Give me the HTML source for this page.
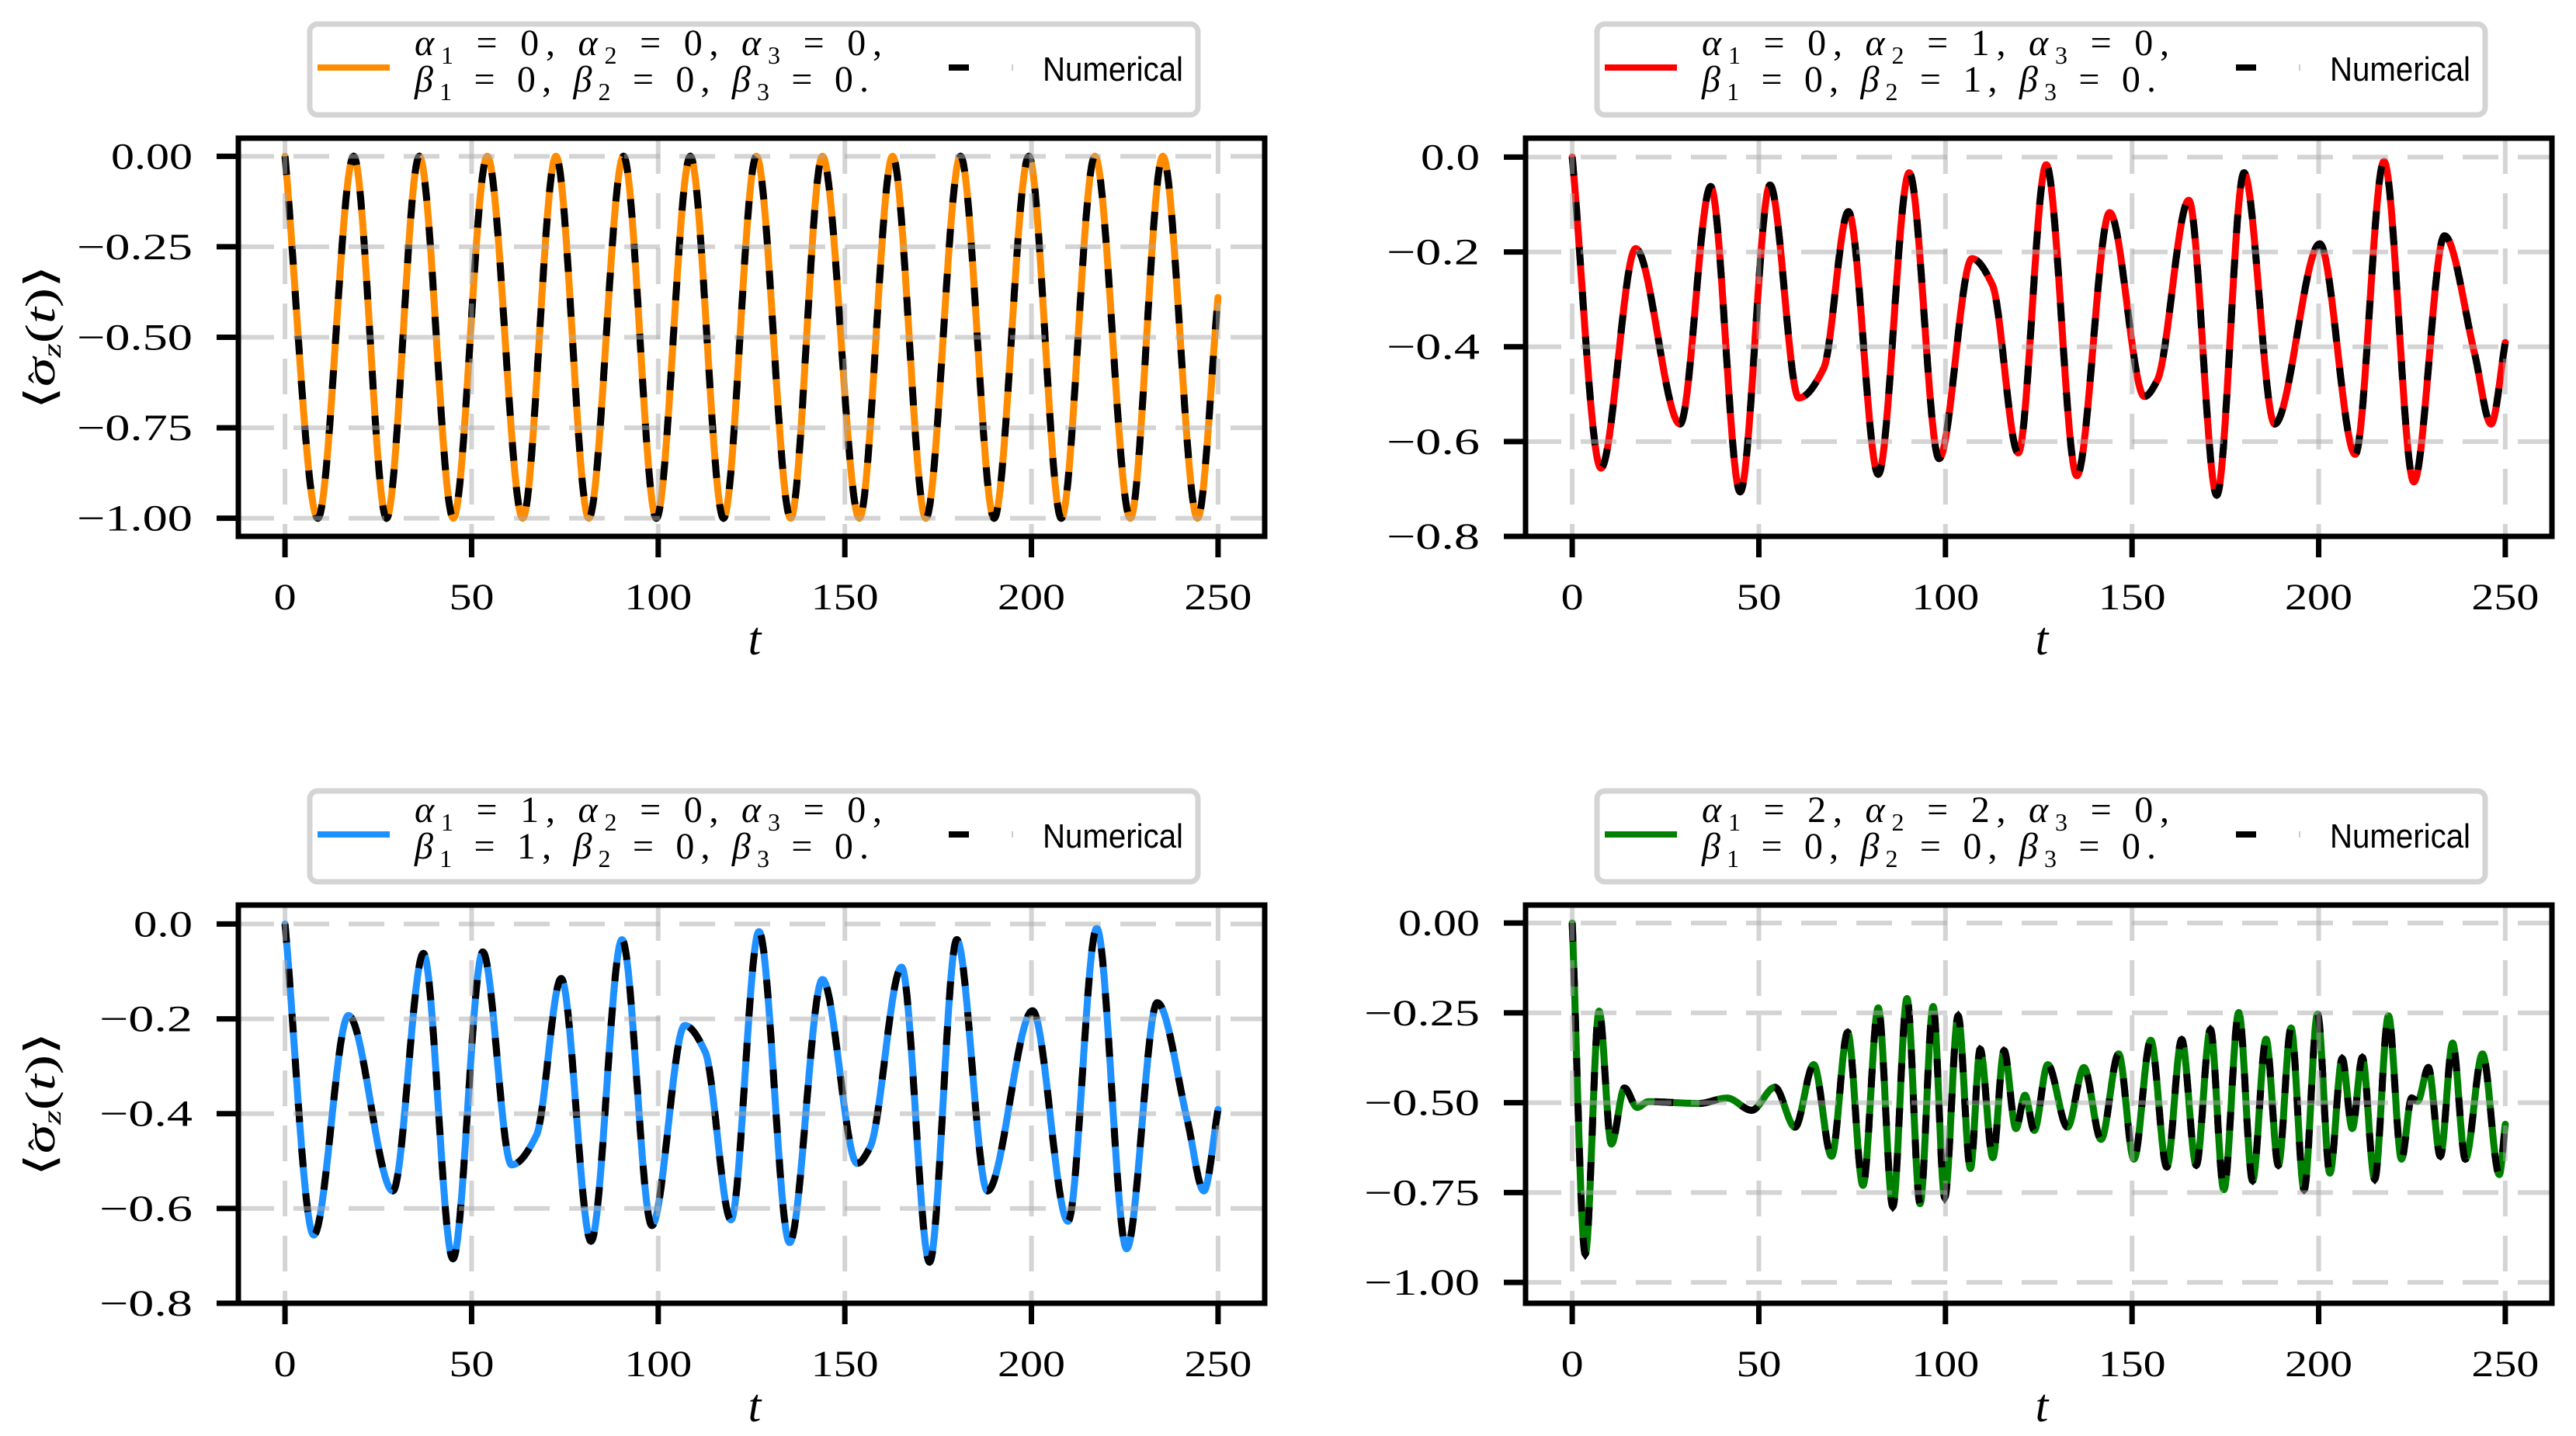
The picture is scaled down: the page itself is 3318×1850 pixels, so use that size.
<!DOCTYPE html>
<html><head><meta charset="utf-8"><style>
html,body{margin:0;padding:0;background:#fff;}
svg{display:block;}
</style></head><body>
<svg id="fig" width="3318" height="1850" viewBox="0 0 3318 1850" xmlns="http://www.w3.org/2000/svg"></svg>
<script>
// ---- Data (extrema; curves interpolated monotonically between them) ----
const tlT = [0,8.8,18.4,27.2,36,45.1,54.2,63.7,72.6,81.4,90.7,99.5,108.6,117.5,126.3,135.5,144,153.9,162.8,171.7,181,190,199.3,208,217,226.5,235.2,244.5,250];
const tlY = [0,-1,0,-1,0,-1,0,-1,0,-1,0,-1,0,-1,0,-1,0,-1,0,-1,0,-1,0,-1,0,-1,0,-1,-0.39];

const trT = [0,7.7,17,28.9,37.1,45,53,60.7,67.4,74,82,90.3,98.3,107.1,112.6,119.5,127,135.2,144,153.3,156.8,165.2,172.7,180,188.2,200.3,209.8,217.5,225.5,233.7,241.8,246.2,250];
const trY = [0,-0.656,-0.193,-0.563,-0.062,-0.706,-0.059,-0.508,-0.445,-0.115,-0.669,-0.033,-0.636,-0.214,-0.27,-0.624,-0.016,-0.672,-0.117,-0.505,-0.47,-0.091,-0.713,-0.033,-0.563,-0.183,-0.627,-0.009,-0.685,-0.166,-0.415,-0.563,-0.391];

const blT = [0,7.7,17,28.9,37.1,45,53,60.7,67.4,74,82,90.3,98.3,107.1,112.6,119.5,127,135.2,144,153.3,156.8,165.2,172.7,180,188.2,200.3,209.8,217.5,225.5,233.7,241.8,246.2,250];
const blY = [0,-0.656,-0.193,-0.563,-0.062,-0.706,-0.059,-0.508,-0.445,-0.115,-0.669,-0.033,-0.636,-0.214,-0.27,-0.624,-0.016,-0.672,-0.117,-0.505,-0.47,-0.091,-0.713,-0.033,-0.563,-0.183,-0.627,-0.009,-0.685,-0.166,-0.415,-0.563,-0.391];

const brT = [0,3.5,7.2,10.5,14,17.4,20.4,34,41.5,48.1,54.3,59.7,64.7,69.5,73.8,77.9,82,85.9,89.7,93.2,96.7,99.8,103.4,106.7,109.3,112.7,115.7,118.9,121.3,123.8,127.4,132.7,137.1,141.7,146.4,150.5,155,159.3,163.3,167.2,171,174.6,178.6,182.3,185.9,189.2,192.6,196.1,199.7,203,206.3,209,211.7,215,218.7,222.2,224.9,226.5,229.4,232.6,235.9,239.3,243.9,248.4,250];
const brY = [0,-0.921,-0.245,-0.615,-0.459,-0.513,-0.497,-0.502,-0.487,-0.521,-0.457,-0.568,-0.394,-0.649,-0.304,-0.73,-0.236,-0.789,-0.21,-0.781,-0.232,-0.764,-0.258,-0.683,-0.351,-0.653,-0.355,-0.572,-0.479,-0.577,-0.394,-0.568,-0.402,-0.602,-0.364,-0.657,-0.326,-0.679,-0.324,-0.674,-0.296,-0.742,-0.249,-0.717,-0.323,-0.674,-0.292,-0.742,-0.253,-0.696,-0.377,-0.572,-0.374,-0.713,-0.258,-0.657,-0.487,-0.496,-0.402,-0.649,-0.334,-0.657,-0.364,-0.7,-0.56];

const xTicks = [0,50,100,150,200,250];
const xTickLabels = ["0","50","100","150","200","250"];
const yTicksA = [0,-0.25,-0.5,-0.75,-1];
const yTickLabelsA = ["0.00","\u22120.25","\u22120.50","\u22120.75","\u22121.00"];
const yTicksB = [0,-0.2,-0.4,-0.6,-0.8];
const yTickLabelsB = ["0.0","\u22120.2","\u22120.4","\u22120.6","\u22120.8"];

const NS = "http://www.w3.org/2000/svg";
const svg = document.getElementById('fig');
function mk(tag, attrs, parent){
  const e = document.createElementNS(NS, tag);
  for (const k in attrs) e.setAttribute(k, attrs[k]);
  (parent||svg).appendChild(e);
  return e;
}
function labelWidth(s){
  let w=0;
  for (const c of s){ if (c==='.') w+=18; else if (c==='\u2212') w+=44; else w+=29; }
  return w;
}
function monotone(xs, ys){
  const n=xs.length, d=[], m=new Array(n);
  for(let i=0;i<n-1;i++) d.push((ys[i+1]-ys[i])/(xs[i+1]-xs[i]));
  m[0]=d[0]; m[n-1]=d[n-2];
  for(let i=1;i<n-1;i++){
    if (d[i-1]*d[i]<=0) m[i]=0;
    else { const w1=2*(xs[i+1]-xs[i])+(xs[i]-xs[i-1]), w2=(xs[i+1]-xs[i])+2*(xs[i]-xs[i-1]);
      m[i]=(w1+w2)/(w1/d[i-1]+w2/d[i]); }
  }
  if (d[0]*m[1]<0) m[0]=0;
  return function(x){
    let i=0; while(i<n-2 && x>xs[i+1]) i++;
    const h=xs[i+1]-xs[i], t=(x-xs[i])/h;
    const h00=2*t*t*t-3*t*t+1, h10=t*t*t-2*t*t+t, h01=-2*t*t*t+3*t*t, h11=t*t*t-t*t;
    return h00*ys[i]+h10*h*m[i]+h01*ys[i+1]+h11*h*m[i+1];
  };
}

let clipId=0;
function panel(p){
  const b=p.box;
  const sx = t => b.x + (t - p.xlim[0])/(p.xlim[1]-p.xlim[0])*b.w;
  const sy = v => b.y + (p.ylim[1]-v)/(p.ylim[1]-p.ylim[0])*b.h;
  const g = mk('g',{});
  
  
  const cid='clip'+(clipId++);
  const cp = mk('clipPath',{id:cid},g);
  mk('rect',{x:b.x,y:b.y,width:b.w,height:b.h},cp);

  const f = monotone(p.t, p.y);
  let d='';
  const tmax=p.t[p.t.length-1];
  for(let t=0;t<=tmax+1e-9;t+=0.1){ d += (d?'L':'M') + sx(t).toFixed(1)+','+sy(f(t)).toFixed(1); }
  const lines = mk('g',{'clip-path':'url(#'+cid+')'},g);
  const sl = mk('path',{d:d,fill:'none',stroke:p.color,'stroke-width':9,'stroke-linejoin':'round','stroke-linecap':'round'},lines);
  
  
  const nl = mk('path',{d:d,fill:'none',stroke:'#000','stroke-width':9,'stroke-dasharray':'24 34'},lines);
  
  

  const grid = mk('g',{stroke:'rgba(170,170,170,0.5)','stroke-width':6,'stroke-dasharray':'46 25'},g);
  
  
  p.xticks.forEach(t=>{ mk('line',{x1:sx(t),x2:sx(t),y1:b.y,y2:b.y+b.h},grid); });
  p.yticks.forEach(v=>{ mk('line',{x1:b.x,x2:b.x+b.w,y1:sy(v),y2:sy(v)},grid); });

  const sp = mk('rect',{x:b.x,y:b.y,width:b.w,height:b.h,fill:'none',stroke:'#000','stroke-width':7},g);
  
  

  p.xticks.forEach((t,i)=>{
    mk('line',{x1:sx(t),x2:sx(t),y1:b.y+b.h,y2:b.y+b.h+27,stroke:'#000','stroke-width':7},g);
    const s=p.xlabels[i];
    const tx = mk('text',{x:sx(t),y:b.y+b.h+94,'text-anchor':'middle','font-family':'"Liberation Serif",serif','font-size':48,textLength:labelWidth(s),lengthAdjust:'spacingAndGlyphs'},g);
    tx.textContent=s;
    
    
  });
  p.yticks.forEach((v,i)=>{
    mk('line',{x1:b.x-28,x2:b.x,y1:sy(v),y2:sy(v),stroke:'#000','stroke-width':7},g);
    const s=p.ylabels[i];
    const tx = mk('text',{x:b.x-59,y:sy(v)+16,'text-anchor':'end','font-family':'"Liberation Serif",serif','font-size':48,textLength:labelWidth(s),lengthAdjust:'spacingAndGlyphs'},g);
    tx.textContent=s;
    
    
  });

  const xl = mk('text',{x:b.x+b.w/2+4,y:b.y+b.h+152,'text-anchor':'middle','font-family':'"Liberation Serif",serif','font-style':'italic','font-size':60},g);
  xl.textContent='t';
  
  
  const cy=b.y+b.h/2;
  const yg = mk('g',{transform:'translate(70,'+cy+') rotate(-90)'},g);
  
  
  const yl = mk('text',{x:-93,y:0,'font-family':'"DejaVu Serif","Liberation Serif",serif','font-size':54,textLength:186,lengthAdjust:'spacingAndGlyphs'},yg);
  yl.innerHTML='\u27E8<tspan font-family="Liberation Serif" font-style="italic">\u03C3</tspan><tspan font-family="Liberation Serif" font-style="italic" font-size="34" dy="8">z</tspan><tspan font-family="Liberation Serif" dy="-8">(</tspan><tspan font-family="Liberation Serif" font-style="italic">t</tspan><tspan font-family="Liberation Serif">)</tspan>\u27E9';
  const hat = mk('text',{x:-52,y:-2,'text-anchor':'middle','font-family':'"Liberation Serif",serif','font-size':44},yg);
  hat.textContent='\u02C6';

  const lg = mk('g',{},g);
  
  
  mk('rect',{x:b.x+92,y:b.y-147,width:1144,height:117,rx:10,fill:'#fff',stroke:'#d4d4d4','stroke-width':7},lg);
  const le = mk('line',{x1:b.x+102,x2:b.x+195,y1:b.y-91,y2:b.y-91,stroke:p.color,'stroke-width':8},lg);
  
  
  function mathLine(sym, vals, end, y, len){
    const t = mk('text',{x:b.x+227,y:y,'font-family':'"Liberation Serif",serif','font-size':48,textLength:len,lengthAdjust:'spacing'},lg);
    let h='';
    for(let i=0;i<3;i++){
      h+='<tspan font-style="italic">'+sym+'</tspan><tspan font-size="32" dy="11">'+(i+1)+'</tspan><tspan dy="-11"> = '+vals[i]+(i<2?', ':end)+'</tspan>';
    }
    t.innerHTML=h;
    
    
  }
  mathLine('\u03B1', p.alpha, ',', b.y-107, 602);
  mathLine('\u03B2', p.beta, '.', b.y-60, 585);
  mk('line',{x1:b.x+915,x2:b.x+941,y1:b.y-91,y2:b.y-91,stroke:'#000','stroke-width':8},lg);
  mk('line',{x1:b.x+997,x2:b.x+997,y1:b.y-95,y2:b.y-87,stroke:'#ccc','stroke-width':2},lg);
  const nt = mk('text',{x:b.x+1036,y:b.y-74,'font-family':'"Liberation Sans",sans-serif','font-size':44,textLength:181,lengthAdjust:'spacingAndGlyphs'},lg);
  nt.textContent='Numerical';
  
  
}

panel({name:'panel-top-left',box:{x:307,y:178,w:1322,h:513},xlim:[-12.5,262.5],ylim:[-1.05,0.05],t:tlT,y:tlY,color:'#ff8c00',xticks:xTicks,xlabels:xTickLabels,yticks:yTicksA,ylabels:yTickLabelsA,alpha:[0,0,0],beta:[0,0,0]});
panel({name:'panel-top-right',box:{x:1965,y:178,w:1322,h:513},xlim:[-12.5,262.5],ylim:[-0.8,0.04],t:trT,y:trY,color:'#ff0000',xticks:xTicks,xlabels:xTickLabels,yticks:yTicksB,ylabels:yTickLabelsB,alpha:[0,1,0],beta:[0,1,0]});
panel({name:'panel-bottom-left',box:{x:307,y:1166,w:1322,h:513},xlim:[-12.5,262.5],ylim:[-0.8,0.04],t:blT,y:blY,color:'#1e90ff',xticks:xTicks,xlabels:xTickLabels,yticks:yTicksB,ylabels:yTickLabelsB,alpha:[1,0,0],beta:[1,0,0]});
panel({name:'panel-bottom-right',box:{x:1965,y:1166,w:1322,h:513},xlim:[-12.5,262.5],ylim:[-1.058,0.05],t:brT,y:brY,color:'#008000',xticks:xTicks,xlabels:xTickLabels,yticks:yTicksA,ylabels:yTickLabelsA,alpha:[2,2,0],beta:[0,0,0]});
</script>
</body></html>
